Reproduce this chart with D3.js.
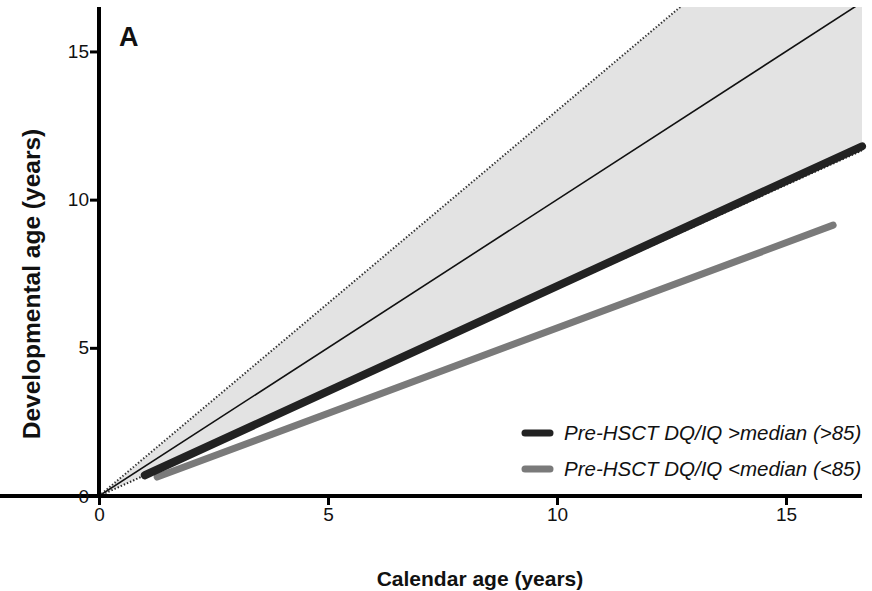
<!DOCTYPE html>
<html>
<head>
<meta charset="utf-8">
<script src="https://cdn.jsdelivr.net/npm/d3@7"></script>
<style>
  html, body { margin: 0; padding: 0; background: #fff; }
  svg { display: block; font-family: "Liberation Sans", Arial, Helvetica, sans-serif; }
</style>
</head>
<body>
<svg id="chart" width="872" height="591"></svg>
<script>
// Axis extents (years)
const xDomain = [0, 16.66];
const yDomain = [0, 16.5];
const xTicks = [0, 5, 10, 15];
const yTicks = [0, 5, 10, 15];

// Reference lines: developmental age equal to calendar age, and the
// normal range (DQ/IQ 70 to 130) drawn as its two bounding rays.
const identityX = [0, 16.66];
const identityY = [0, 16.66];
const normalLowX = [0, 16.66];
const normalLowY = [0, 11.66];
const normalHighX = [0, 16.66];
const normalHighY = [0, 21.66];

// Fitted trajectories for the two groups
const groupNames = ["Pre-HSCT DQ/IQ >median (>85)", "Pre-HSCT DQ/IQ <median (<85)"];
const highX = [1.0, 16.66];
const highY = [0.70, 11.80];
const lowX = [1.27, 16.03];
const lowY = [0.64, 9.14];

const groupColors = ["#222222", "#7a7a7a"];

const svg = d3.select("#chart");
const mLeft = 99, mRight = 862, mTop = 7, mBottom = 496;

const x = d3.scaleLinear().domain(xDomain).range([mLeft, mRight]);
const y = d3.scaleLinear().domain(yDomain).range([mBottom, mTop]);

const pts = (xs, ys) => xs.map((v, i) => [v, ys[i]]);
const line = d3.line().x(d => x(d[0])).y(d => y(d[1]));

svg.append("defs").append("clipPath").attr("id", "plot")
  .append("rect").attr("x", mLeft).attr("y", mTop)
  .attr("width", mRight - mLeft).attr("height", mBottom - mTop);

const plot = svg.append("g").attr("clip-path", "url(#plot)");

// Shaded normal range
const band = pts(normalLowX, normalLowY).concat(pts(normalHighX, normalHighY).reverse());
plot.append("path")
  .attr("d", line(band) + "Z")
  .attr("fill", "#e3e3e3");

// Upper bound of the normal range, dotted
plot.append("path")
  .attr("d", line(pts(normalHighX, normalHighY)))
  .attr("fill", "none")
  .attr("stroke", "#333")
  .attr("stroke-width", 2)
  .attr("stroke-dasharray", "1.4,2");

// Identity line
plot.append("path")
  .attr("d", line(pts(identityX, identityY)))
  .attr("fill", "none")
  .attr("stroke", "#111")
  .attr("stroke-width", 1.6);

// Group trajectories
const series = [pts(lowX, lowY), pts(highX, highY)];
const seriesColors = [groupColors[1], groupColors[0]];
const seriesWidths = [7, 8];
series.forEach((s, i) => {
  svg.append("path")
    .attr("d", line(s))
    .attr("fill", "none")
    .attr("stroke", seriesColors[i])
    .attr("stroke-width", seriesWidths[i])
    .attr("stroke-linecap", "round");
});

// Lower bound of the normal range, dotted; it runs along the lower edge of the dark trajectory
plot.append("path")
  .attr("d", line(pts(normalLowX, normalLowY)))
  .attr("fill", "none")
  .attr("stroke", "#222")
  .attr("stroke-width", 2)
  .attr("stroke-dasharray", "1.4,2");

// Axes
const xAxis = d3.axisBottom(x).tickValues(xTicks).tickSize(9).tickSizeOuter(0).tickPadding(3);
const yAxis = d3.axisLeft(y).tickValues(yTicks).tickSize(9).tickSizeOuter(0).tickPadding(1);

const gx = svg.append("g").attr("transform", `translate(0,${mBottom})`).call(xAxis);
const gy = svg.append("g").attr("transform", `translate(${mLeft},0)`).call(yAxis);

[gx, gy].forEach(g => {
  g.attr("font-size", null).attr("font-family", null);
  g.select(".domain").attr("stroke", "#000").attr("stroke-width", 4);
  g.selectAll(".tick line").attr("stroke", "#000").attr("stroke-width", 3);
  g.selectAll(".tick text")
    .attr("fill", "#111")
    .attr("font-size", 19)
    .attr("font-family", "'Liberation Sans', Arial, sans-serif");
});
gy.select(".domain").attr("d", `M0,${mBottom + 2}V${mTop}`);
gx.select(".domain").attr("d", `M-2,0H${mRight}`);

// Axis titles
svg.append("text")
  .attr("x", 480).attr("y", 586)
  .attr("text-anchor", "middle")
  .attr("font-size", 21).attr("font-weight", "bold")
  .attr("fill", "#111")
  .text("Calendar age (years)");

svg.append("text")
  .attr("transform", "translate(40,284) rotate(-90)")
  .attr("text-anchor", "middle")
  .attr("font-size", 24.5).attr("font-weight", "bold")
  .attr("fill", "#111")
  .text("Developmental age (years)");

// Panel letter
svg.append("text")
  .attr("x", 119).attr("y", 46)
  .attr("font-size", 27).attr("font-weight", "bold")
  .attr("fill", "#111")
  .text("A");

// Legend
const legend = svg.append("g");
[433, 469].forEach((ly, i) => {
  legend.append("line")
    .attr("x1", 525).attr("x2", 550)
    .attr("y1", ly).attr("y2", ly)
    .attr("stroke", groupColors[i])
    .attr("stroke-width", 7)
    .attr("stroke-linecap", "round");
  legend.append("text")
    .attr("x", 564).attr("y", ly + 7)
    .attr("font-size", 20.5).attr("font-style", "italic")
    .attr("fill", "#111")
    .text(groupNames[i]);
});
</script>
</body>
</html>
